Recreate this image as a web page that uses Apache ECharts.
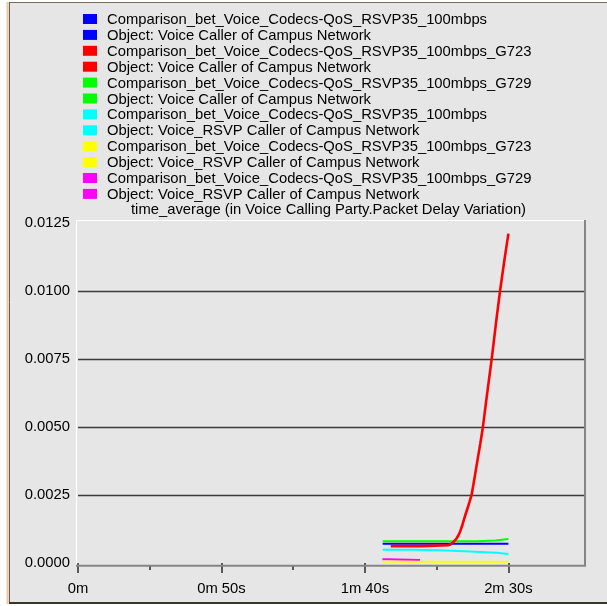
<!DOCTYPE html>
<html>
<head>
<meta charset="utf-8">
<script src="https://cdn.jsdelivr.net/npm/echarts@6/dist/echarts.min.js"></script>
<style>
  html, body { margin: 0; padding: 0; background: #ffffff; }
  #chart { width: 607px; height: 606px; }
</style>
</head>
<body>
<div id="chart"></div>
<script>
// Legend rows: scenario name followed by the object it was measured on
const legendLabels = [
  'Comparison_bet_Voice_Codecs-QoS_RSVP35_100mbps',
  'Object: Voice Caller of Campus Network',
  'Comparison_bet_Voice_Codecs-QoS_RSVP35_100mbps_G723',
  'Object: Voice Caller of Campus Network',
  'Comparison_bet_Voice_Codecs-QoS_RSVP35_100mbps_G729',
  'Object: Voice Caller of Campus Network',
  'Comparison_bet_Voice_Codecs-QoS_RSVP35_100mbps',
  'Object: Voice_RSVP Caller of Campus Network',
  'Comparison_bet_Voice_Codecs-QoS_RSVP35_100mbps_G723',
  'Object: Voice_RSVP Caller of Campus Network',
  'Comparison_bet_Voice_Codecs-QoS_RSVP35_100mbps_G729',
  'Object: Voice_RSVP Caller of Campus Network'
];
const seriesColors = ['#0000ff', '#ff0000', '#00ff00', '#00ffff', '#ffff00', '#ff00ff'];
const statisticTitle = 'time_average (in Voice Calling Party.Packet Delay Variation)';

// Axis ticks (x in seconds)
const xMajorTicks = [0, 50, 100, 150];
const xMinorTicks = [25, 75, 125];
const xTickText = ['0m', '0m 50s', '1m 40s', '2m 30s'];
const xMax = 176.7;
const yMin = 0;
const yMax = 0.0125;
const yStep = 0.0025;

// time_average of packet delay variation, [seconds, value]
const callerDefault = [[106.2, 0.00071], [150.0, 0.00071]];
const callerG723 = [
  [109.0, 0.00062], [119.8, 0.00062], [120.1, 0.00064], [129.0, 0.00065],
  [129.8, 0.00068], [130.5, 0.00074], [131.2, 0.00081], [132.0, 0.00091],
  [132.6, 0.00102], [133.2, 0.00116], [133.8, 0.00134], [134.4, 0.00156],
  [135.1, 0.00180], [135.8, 0.00202], [136.5, 0.00226], [137.2, 0.00251],
  [138.2, 0.00312], [139.2, 0.00376], [140.2, 0.00438], [141.1, 0.00498],
  [142.6, 0.00623], [144.2, 0.00751], [145.8, 0.00892], [147.1, 0.01000],
  [148.6, 0.01112], [150.0, 0.01210]
];
const callerG729 = [
  [106.2, 0.00080], [139.0, 0.00080], [139.3, 0.00083], [145.5, 0.00083],
  [145.8, 0.00088], [150.0, 0.00088]
];
const rsvpDefault = [
  [106.2, 0.00049], [116.3, 0.00049], [116.6, 0.000465], [125.6, 0.000465],
  [125.9, 0.00043], [134.6, 0.00043], [134.9, 0.00038], [145.9, 0.00038],
  [146.2, 0.00033], [150.0, 0.00033]
];
const rsvpG723 = [[106.2, 0.00005], [150.0, 0.00005]];
const rsvpG729 = [[106.1, 0.00014], [108.1, 0.00014], [108.3, 0.00011], [119.2, 0.00011]];

const seriesData = [callerDefault, callerG723, callerG729, rsvpDefault, rsvpG723, rsvpG729];
const seriesNames = [
  'Voice Caller (QoS_RSVP35_100mbps)',
  'Voice Caller (G723)',
  'Voice Caller (G729)',
  'Voice_RSVP Caller (QoS_RSVP35_100mbps)',
  'Voice_RSVP Caller (G723)',
  'Voice_RSVP Caller (G729)'
];
const drawOrder = [0, 2, 3, 5, 4, 1];

const FONT = '"Liberation Sans", Arial, sans-serif';
const FS = 14.8;

const chart = echarts.init(document.getElementById('chart'), null, { renderer: 'canvas' });

// Legend drawn as coloured swatches with text rows
const legendGraphics = [];
legendLabels.forEach(function (label, i) {
  const cy = 19 + i * 15.9;
  legendGraphics.push({
    type: 'rect', z: 50,
    shape: { x: 83, y: cy - 5, width: 14, height: 10 },
    style: { fill: seriesColors[Math.floor(i / 2)] }
  });
  legendGraphics.push({
    type: 'text', z: 50, x: 107, y: cy + 1,
    style: { text: label, fill: '#000', font: FS + 'px ' + FONT, verticalAlign: 'middle', align: 'left' }
  });
});

const frameGraphics = [
  // white margins round the panel
  { type: 'rect', z: 60, shape: { x: 0, y: 0, width: 7, height: 606 }, style: { fill: '#ffffff' } },
  { type: 'rect', z: 60, shape: { x: 0, y: 0, width: 607, height: 2 }, style: { fill: '#ffffff' } },
  { type: 'rect', z: 60, shape: { x: 0, y: 604, width: 607, height: 2 }, style: { fill: '#ffffff' } },
  // panel border
  { type: 'line', z: 61, shape: { x1: 7.5, y1: 2, x2: 7.5, y2: 604 }, style: { stroke: '#e9c9a0', lineWidth: 2 } },
  { type: 'line', z: 61, shape: { x1: 9.5, y1: 2.5, x2: 9.5, y2: 603 }, style: { stroke: '#6d5e4e', lineWidth: 1 } },
  { type: 'line', z: 61, shape: { x1: 9, y1: 2.5, x2: 607, y2: 2.5 }, style: { stroke: '#7a6a5a', lineWidth: 1 } },
  { type: 'line', z: 61, shape: { x1: 9, y1: 603, x2: 607, y2: 603 }, style: { stroke: '#3e3428', lineWidth: 2 } },
  // sunken plot frame
  { type: 'line', z: 40, shape: { x1: 76.5, y1: 565, x2: 76.5, y2: 220.5 }, style: { stroke: '#ffffff', lineWidth: 1.2 } },
  { type: 'line', z: 40, shape: { x1: 76.5, y1: 220.5, x2: 585, y2: 220.5 }, style: { stroke: '#ffffff', lineWidth: 1.2 } },
  { type: 'line', z: 40, shape: { x1: 76, y1: 565.7, x2: 586, y2: 565.7 }, style: { stroke: '#858585', lineWidth: 2 } },
  { type: 'line', z: 40, shape: { x1: 585, y1: 565.7, x2: 585, y2: 220 }, style: { stroke: '#858585', lineWidth: 2 } },
  // statistic title
  { type: 'text', z: 50, x: 131, y: 210,
    style: { text: statisticTitle, fill: '#000', font: FS + 'px ' + FONT, verticalAlign: 'middle', align: 'left' } }
];

const series = drawOrder.map(function (k) {
  return {
    name: seriesNames[k],
    type: 'line',
    data: seriesData[k],
    showSymbol: false,
    symbol: 'none',
    silent: true,
    z: 3 + drawOrder.indexOf(k),
    lineStyle: { color: seriesColors[k], width: k === 1 ? 2.6 : 2 },
    itemStyle: { color: seriesColors[k] },
    animation: false
  };
});

const option = {
  backgroundColor: '#e6e6e6',
  animation: false,
  grid: { left: 78, right: 22, top: 222.7, bottom: 43, containLabel: false },
  xAxis: [
    {
      type: 'value', min: 0, max: xMax, position: 'bottom', offset: 3,
      axisLine: { show: false },
      axisTick: { show: true, length: 10, customValues: xMajorTicks, lineStyle: { color: '#2a2a2a', width: 1.5 } },
      axisLabel: {
        show: true, customValues: xMajorTicks, margin: 15,
        color: '#000', fontFamily: FONT, fontSize: FS,
        formatter: function (v) { const i = xMajorTicks.indexOf(Math.round(v)); return i >= 0 ? xTickText[i] : ''; }
      },
      splitLine: { show: false }
    },
    {
      type: 'value', min: 0, max: xMax, position: 'bottom', offset: 3,
      axisLine: { show: false },
      axisTick: { show: true, length: 4, customValues: xMinorTicks, lineStyle: { color: '#2a2a2a', width: 1.5 } },
      axisLabel: { show: true, customValues: xMinorTicks, formatter: function () { return ''; } },
      splitLine: { show: false }
    }
  ],
  yAxis: {
    type: 'value', min: yMin, max: yMax, interval: yStep,
    axisLine: { show: false },
    axisTick: { show: false },
    axisLabel: {
      margin: 8, color: '#000', fontFamily: FONT, fontSize: FS,
      formatter: function (v) { return v.toFixed(4); }
    },
    splitLine: { show: true, showMinLine: false, showMaxLine: false, lineStyle: { color: '#3a3a3a', width: 1.4 } }
  },
  graphic: legendGraphics.concat(frameGraphics),
  series: series
};

chart.setOption(option);
</script>
</body>
</html>
